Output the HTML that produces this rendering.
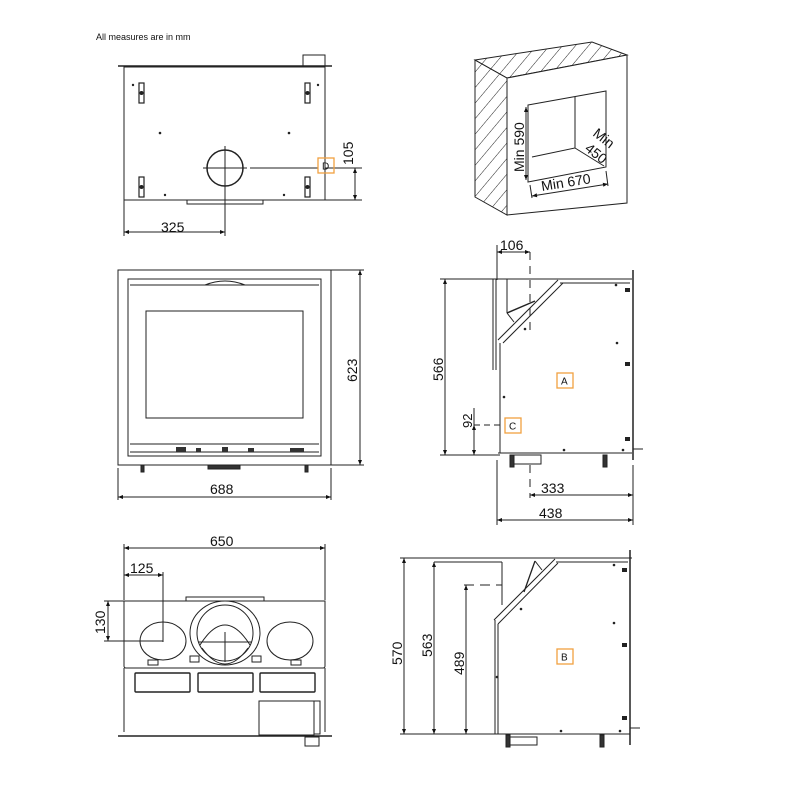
<!DOCTYPE html>
<html><head><meta charset="utf-8"><style>
html,body{margin:0;padding:0;background:#fff}
svg{display:block}
text{font-family:"Liberation Sans",sans-serif;fill:#111}
</style></head><body>
<svg width="800" height="800" viewBox="0 0 800 800" xmlns="http://www.w3.org/2000/svg">
<defs>
<marker id="a" viewBox="0 0 10 10" refX="10" refY="5" markerWidth="7" markerHeight="5" orient="auto-start-reverse"><path d="M0,1 L10,5 L0,9 z" fill="#111"/></marker>
<pattern id="h" patternUnits="userSpaceOnUse" width="10" height="10" patternTransform="rotate(40)"><line x1="0" y1="0" x2="0" y2="10" stroke="#222" stroke-width="1"/></pattern>
</defs>
<text x="96" y="40" font-size="9">All measures are in mm</text>
<g fill="none" stroke="#222" stroke-width="1">
<!-- TOP VIEW -->
<line x1="118" y1="66" x2="332" y2="66" stroke-width="1.5"/>
<rect x="303" y="55" width="22" height="11"/>
<rect x="124" y="67" width="201" height="133"/>
<rect x="187" y="200" width="76" height="4"/>
<circle cx="225" cy="168" r="18" stroke-width="1.5"/>
<line x1="225" y1="146" x2="225" y2="236"/><line x1="203" y1="168" x2="247" y2="168"/>
<line x1="250" y1="168" x2="318" y2="168"/>
<line x1="325" y1="168" x2="362" y2="168"/><line x1="325" y1="200" x2="362" y2="200"/>
<line x1="355" y1="168" x2="355" y2="200" marker-start="url(#a)" marker-end="url(#a)"/>
<line x1="124" y1="200" x2="124" y2="236"/>
<line x1="124" y1="232" x2="225" y2="232" marker-start="url(#a)" marker-end="url(#a)"/>
<g stroke-width="1.2"><rect x="139" y="83" width="5" height="20"/><rect x="305" y="83" width="5" height="20"/><rect x="139" y="177" width="5" height="20"/><rect x="305" y="177" width="5" height="20"/></g>
<g fill="#222" stroke="none"><circle cx="141.5" cy="93" r="2"/><circle cx="307.5" cy="93" r="2"/><circle cx="141.5" cy="187" r="2"/><circle cx="307.5" cy="187" r="2"/>
<circle cx="133" cy="85" r="1.2"/><circle cx="318" cy="85" r="1.2"/><circle cx="160" cy="133" r="1.3"/><circle cx="289" cy="133" r="1.3"/><circle cx="165" cy="195" r="1.2"/><circle cx="284" cy="195" r="1.2"/></g>
<!-- FRONT VIEW -->
<rect x="118" y="270" width="213" height="195"/>
<rect x="128" y="279" width="193" height="177"/>
<line x1="130" y1="285" x2="319" y2="285"/>
<path d="M205,285 Q225,277 245,285"/>
<rect x="146" y="311" width="157" height="107"/>
<line x1="130" y1="444" x2="319" y2="444"/>
<line x1="130" y1="452" x2="319" y2="452"/>
<g fill="#333" stroke="none"><rect x="176" y="447" width="10" height="5"/><rect x="196" y="448" width="5" height="4"/><rect x="222" y="447" width="6" height="5"/><rect x="248" y="448" width="6" height="4"/><rect x="290" y="448" width="14" height="4"/></g>
<rect x="208" y="465" width="32" height="4" fill="#333"/>
<rect x="141" y="465" width="3" height="7" fill="#333"/><rect x="305" y="465" width="3" height="7" fill="#333"/>
<line x1="331" y1="270" x2="364" y2="270"/><line x1="331" y1="465" x2="364" y2="465"/>
<line x1="360" y1="270" x2="360" y2="465" marker-start="url(#a)" marker-end="url(#a)"/>
<line x1="118" y1="468" x2="118" y2="500"/><line x1="331" y1="468" x2="331" y2="500"/>
<line x1="118" y1="497" x2="331" y2="497" marker-start="url(#a)" marker-end="url(#a)"/>
<!-- SIDE A -->
<line x1="440" y1="279" x2="632" y2="279"/>
<line x1="493" y1="279" x2="493" y2="370"/><line x1="496" y1="279" x2="496" y2="370"/>
<line x1="507" y1="279" x2="507" y2="313"/><line x1="507" y1="313" x2="535" y2="301" stroke-width="1.4"/><line x1="507" y1="313" x2="514" y2="322"/>
<line x1="498" y1="340" x2="558" y2="280"/><line x1="503" y1="343" x2="563" y2="283"/>
<line x1="560" y1="283" x2="630" y2="283"/>
<line x1="500" y1="343" x2="500" y2="453"/>
<line x1="498" y1="453" x2="632" y2="453"/>
<line x1="633" y1="270" x2="633" y2="460" stroke-width="1.5"/>
<line x1="633" y1="449" x2="643" y2="449"/>
<rect x="513" y="455" width="28" height="9"/>
<rect x="510" y="455" width="4" height="12" fill="#333"/><rect x="603" y="455" width="4" height="12" fill="#333"/>
<g fill="#222" stroke="none"><rect x="625" y="288" width="5" height="4"/><rect x="625" y="362" width="5" height="4"/><rect x="625" y="437" width="5" height="4"/><circle cx="525" cy="329" r="1.3"/><circle cx="617" cy="343" r="1.3"/><circle cx="504" cy="397" r="1.3"/><circle cx="564" cy="450" r="1.3"/><circle cx="623" cy="450" r="1.3"/><circle cx="616" cy="285" r="1.3"/></g>
<line x1="530" y1="252" x2="530" y2="335" stroke-dasharray="8,6"/>
<line x1="530" y1="465" x2="530" y2="498" stroke-dasharray="8,6"/>
<line x1="497" y1="245" x2="497" y2="280"/>
<line x1="497" y1="252" x2="530" y2="252" marker-start="url(#a)" marker-end="url(#a)"/>
<line x1="440" y1="455" x2="500" y2="455"/>
<line x1="445" y1="279" x2="445" y2="455" marker-start="url(#a)" marker-end="url(#a)"/>
<line x1="474" y1="425" x2="500" y2="425" stroke-dasharray="6,4"/>
<line x1="474" y1="408" x2="474" y2="455"/>
<line x1="474" y1="425" x2="474" y2="455" marker-start="url(#a)" marker-end="url(#a)"/>
<line x1="497" y1="460" x2="497" y2="525"/><line x1="633" y1="465" x2="633" y2="525"/>
<line x1="530" y1="495" x2="633" y2="495" marker-start="url(#a)" marker-end="url(#a)"/>
<line x1="497" y1="520" x2="633" y2="520" marker-start="url(#a)" marker-end="url(#a)"/>
<!-- BOTTOM FRONT -->
<line x1="124" y1="544" x2="124" y2="600"/><line x1="325" y1="544" x2="325" y2="600"/>
<line x1="124" y1="548" x2="325" y2="548" marker-start="url(#a)" marker-end="url(#a)"/>
<line x1="124" y1="575" x2="163" y2="575" marker-start="url(#a)" marker-end="url(#a)"/>
<line x1="163" y1="572" x2="163" y2="642"/>
<line x1="104" y1="601" x2="124" y2="601"/><line x1="104" y1="641" x2="163" y2="641"/>
<line x1="108" y1="601" x2="108" y2="641" marker-start="url(#a)" marker-end="url(#a)"/>
<path d="M124,601 L325,601 L325,666 Q325,668 323,668 L126,668 Q124,668 124,666 Z"/>
<rect x="186" y="597" width="78" height="4"/>
<ellipse cx="163" cy="641" rx="23" ry="19"/><ellipse cx="290" cy="641" rx="23" ry="19"/>
<ellipse cx="225" cy="633" rx="35" ry="32"/>
<circle cx="225" cy="633" r="28"/>
<path d="M200,645 Q225,605 250,645"/><path d="M198,642 L252,642"/>
<line x1="225" y1="632" x2="225" y2="662"/><path d="M202,648 Q225,680 248,648"/>
<rect x="148" y="660" width="10" height="5"/><rect x="190" y="656" width="9" height="6"/><rect x="252" y="656" width="9" height="6"/><rect x="291" y="660" width="10" height="5"/>
<rect x="135" y="673" width="55" height="19" rx="1" stroke-width="1.4"/>
<rect x="198" y="673" width="55" height="19" rx="1" stroke-width="1.4"/>
<rect x="260" y="673" width="55" height="19" rx="1" stroke-width="1.4"/>
<line x1="124" y1="668" x2="124" y2="732"/><line x1="325" y1="668" x2="325" y2="732"/>
<rect x="259" y="701" width="55" height="34"/><rect x="314" y="701" width="6" height="33"/>
<line x1="118" y1="736" x2="332" y2="736" stroke-width="1.5"/>
<rect x="305" y="737" width="14" height="9"/>
<!-- SIDE B -->
<line x1="400" y1="558" x2="632" y2="558"/>
<line x1="400" y1="734" x2="497" y2="734"/>
<line x1="404" y1="558" x2="404" y2="734" marker-start="url(#a)" marker-end="url(#a)"/>
<line x1="434" y1="562" x2="434" y2="734" marker-start="url(#a)" marker-end="url(#a)"/>
<line x1="434" y1="562" x2="502" y2="562"/>
<line x1="466" y1="585" x2="466" y2="734" marker-start="url(#a)" marker-end="url(#a)"/>
<line x1="464" y1="585" x2="502" y2="585" stroke-dasharray="10,6"/>
<line x1="502" y1="562" x2="502" y2="605"/>
<line x1="535" y1="561" x2="524" y2="592" stroke-width="1.3"/><line x1="535" y1="561" x2="542" y2="570"/>
<line x1="494" y1="620" x2="555" y2="559"/><line x1="498" y1="624" x2="558" y2="563"/>
<line x1="556" y1="562" x2="628" y2="562"/>
<line x1="495" y1="620" x2="495" y2="734"/><line x1="498" y1="624" x2="498" y2="734"/>
<line x1="495" y1="734" x2="630" y2="734"/>
<line x1="630" y1="550" x2="630" y2="745" stroke-width="1.5"/>
<line x1="630" y1="728" x2="640" y2="728"/>
<rect x="510" y="737" width="27" height="8"/>
<rect x="506" y="735" width="4" height="12" fill="#333"/><rect x="600" y="735" width="4" height="12" fill="#333"/>
<g fill="#222" stroke="none"><rect x="622" y="568" width="5" height="4"/><rect x="622" y="643" width="5" height="4"/><rect x="622" y="716" width="5" height="4"/><circle cx="521" cy="609" r="1.3"/><circle cx="614" cy="623" r="1.3"/><circle cx="497" cy="677" r="1.3"/><circle cx="561" cy="731" r="1.3"/><circle cx="620" cy="731" r="1.3"/><circle cx="614" cy="565" r="1.3"/></g>
</g>
<!-- hatched wall -->
<g stroke="#222" stroke-width="1">
<polygon points="475,60 592,42 627,55 507,78" fill="url(#h)"/>
<polygon points="475,60 507,78 507,215 475,197" fill="url(#h)"/>
<polygon points="507,78 627,55 627,203 507,215" fill="#fff"/>
<polygon points="528,105 606,91 606,167 528,182" fill="#fff"/>
<polyline points="575,97 575,148 532,157" fill="none"/>
<line x1="575" y1="148" x2="604" y2="166"/>
<line x1="526" y1="107" x2="526" y2="180" marker-start="url(#a)" marker-end="url(#a)"/>
<line x1="532" y1="196" x2="608" y2="184" marker-start="url(#a)" marker-end="url(#a)"/>
<line x1="530" y1="185" x2="532" y2="198"/><line x1="606" y1="171" x2="608" y2="186"/>
</g>
<g font-size="14">
<text x="161" y="232">325</text>
<text transform="translate(353,165) rotate(-90)">105</text>
<text transform="translate(357,382) rotate(-90)">623</text>
<text x="210" y="494">688</text>
<text x="500" y="250">106</text>
<text transform="translate(443,381) rotate(-90)">566</text>
<text transform="translate(472,428) rotate(-90)" font-size="13">92</text>
<text x="541" y="493">333</text>
<text x="539" y="518">438</text>
<text x="210" y="546">650</text>
<text x="130" y="573">125</text>
<text transform="translate(105,634) rotate(-90)">130</text>
<text transform="translate(402,665) rotate(-90)">570</text>
<text transform="translate(432,657) rotate(-90)">563</text>
<text transform="translate(464,675) rotate(-90)">489</text>
<text transform="translate(524,172) rotate(-90)">Min 590</text>
<text transform="translate(542,191) rotate(-9)">Min 670</text>
<text transform="translate(592,135) rotate(38)">Min</text>
<text transform="translate(584,150) rotate(38)">450</text>
</g>
<g fill="none" stroke="#f0a040" stroke-width="1.3">
<rect x="318" y="158" width="16" height="15"/>
<rect x="557" y="373" width="16" height="15"/>
<rect x="505" y="418" width="16" height="15"/>
<rect x="557" y="649" width="16" height="15"/>
</g>
<g font-size="10">
<text x="322" y="169.5">D</text><text x="561" y="384.5">A</text><text x="509" y="429.5">C</text><text x="561" y="660.5">B</text>
</g>
</svg>
</body></html>
